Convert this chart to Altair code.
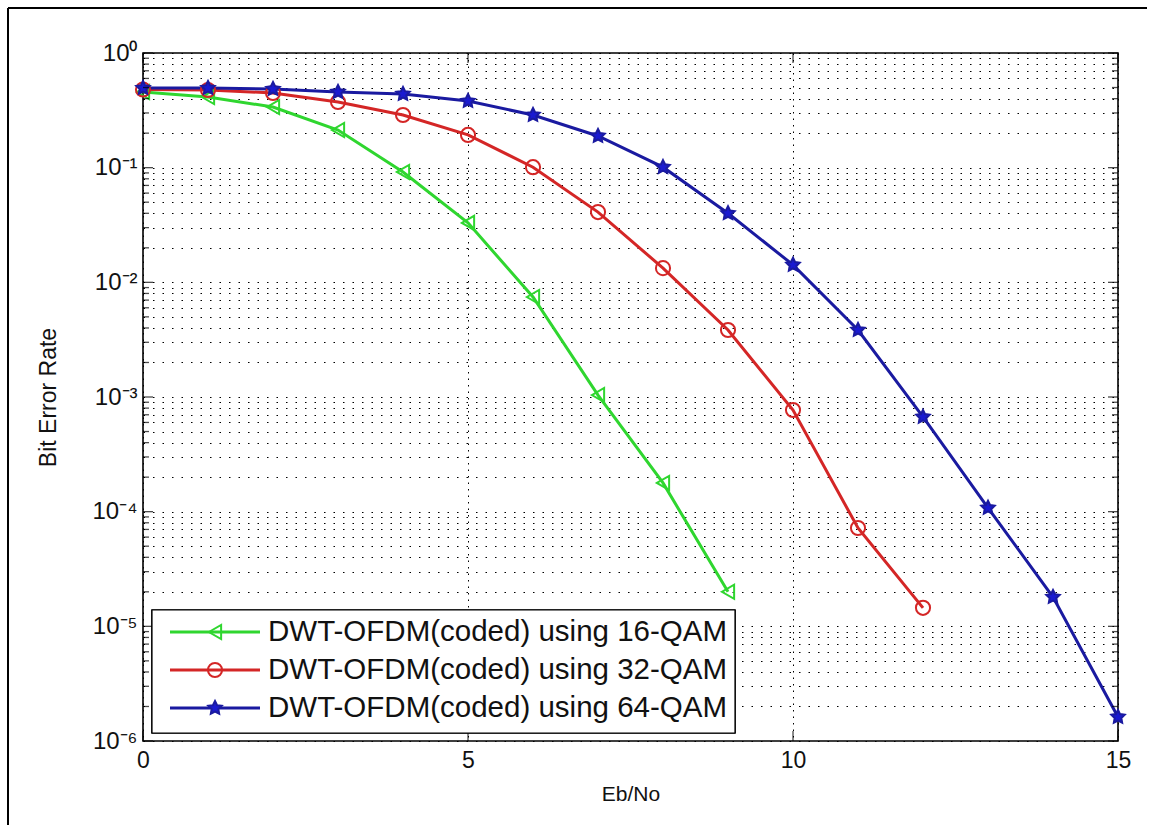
import math
import altair as alt
import pandas as pd

# ---------------- data ----------------
series_names = [
    "DWT-OFDM(coded) using 16-QAM",
    "DWT-OFDM(coded) using 32-QAM",
    "DWT-OFDM(coded) using 64-QAM",
]
ebno_16 = [0, 1, 2, 3, 4, 5, 6, 7, 8, 9]
ber_16 = [0.457, 0.413, 0.338, 0.213, 0.0917, 0.0330, 0.00745, 0.00104, 1.78e-4, 2.0e-5]
ebno_32 = [0, 1, 2, 3, 4, 5, 6, 7, 8, 9, 10, 11, 12]
ber_32 = [0.48, 0.476, 0.448, 0.374, 0.288, 0.193, 0.101, 0.041, 0.0133, 0.00384,
          7.7e-4, 7.2e-5, 1.45e-5]
ebno_64 = [0, 1, 2, 3, 4, 5, 6, 7, 8, 9, 10, 11, 12, 13, 14, 15]
ber_64 = [0.495, 0.495, 0.485, 0.457, 0.439, 0.381, 0.288, 0.189, 0.101, 0.040,
          0.0142, 0.00384, 6.7e-4, 1.08e-4, 1.8e-5, 1.62e-6]

x_ticks = [0, 5, 10, 15]
y_exponents = [0, -1, -2, -3, -4, -5, -6]
y_major_labels = ["10⁰", "10⁻¹", "10⁻²", "10⁻³", "10⁻⁴", "10⁻⁵", "10⁻⁶"]

colors = ["#2fd62f", "#d42626", "#1a1aa0"]
marker_fills = ["transparent", "transparent", "#1a1ad0"]

# star glyph as an SVG path (Vega has no built-in star symbol)
_pts = []
for i in range(10):
    r = 1.0 if i % 2 == 0 else 0.5
    a = -math.pi / 2 + i * math.pi / 5
    _pts.append(f"{r * math.cos(a):.3f},{r * math.sin(a):.3f}")
star_path = "M" + "L".join(_pts) + "Z"
marker_shapes = ["triangle-left", "circle", star_path]

# ---------------- build tables ----------------
rows = []
for name, xs, ys in zip(series_names, [ebno_16, ebno_32, ebno_64], [ber_16, ber_32, ber_64]):
    for xv, yv in zip(xs, ys):
        rows.append({"series": name, "ebno": xv, "ber": yv})
df = pd.DataFrame(rows)

y_major = [10.0 ** e for e in y_exponents]
y_minor = [k * 10.0 ** e for e in y_exponents[1:] for k in range(2, 10)]
y_all = sorted(y_major + y_minor)

label_array = "[" + ",".join("'" + s + "'" for s in y_major_labels) + "]"
y_label_expr = (
    "abs(log(datum.value)/LN10 - round(log(datum.value)/LN10)) < 0.001 ? "
    + label_array + "[-round(log(datum.value)/LN10)] : ''"
)

FONT = "Liberation Sans"
x_scale = alt.Scale(domain=[x_ticks[0], x_ticks[-1]], nice=False, zero=False)
y_scale = alt.Scale(type="log", domain=[y_major[-1], y_major[0]], nice=False)
color_scale = alt.Scale(domain=series_names, range=colors)
shape_scale = alt.Scale(domain=series_names, range=marker_shapes)
fill_scale = alt.Scale(domain=series_names, range=marker_fills)

x_axis = alt.Axis(values=x_ticks, format="d", title="Eb/No", grid=True, ticks=False,
                  domain=False, labelFontSize=23, labelPadding=8, labelFlush=False,
                  titleFontSize=21, titlePadding=11, gridDash=[1.5, 5],
                  gridColor="black", gridOpacity=1, gridWidth=1)
y_axis = alt.Axis(values=y_all, labelExpr=y_label_expr, title="Bit Error Rate",
                  grid=True, ticks=False, domain=False, labelFontSize=24, labelPadding=6,
                  labelFlush=False, titleFontSize=23, titlePadding=31,
                  gridDash=[1.5, 8], gridColor="black", gridOpacity=1, gridWidth=1)

base = alt.Chart(df)

lines = base.mark_line(strokeWidth=3, clip=True).encode(
    x=alt.X("ebno:Q", scale=x_scale, axis=x_axis),
    y=alt.Y("ber:Q", scale=y_scale, axis=y_axis),
    color=alt.Color("series:N", scale=color_scale, legend=None),
)

points = base.mark_point(filled=False, strokeWidth=2, size=200, opacity=1).encode(
    x=alt.X("ebno:Q", scale=x_scale, axis=x_axis),
    y=alt.Y("ber:Q", scale=y_scale, axis=y_axis),
    color=alt.Color("series:N", scale=color_scale, legend=None),
    fill=alt.Fill("series:N", scale=fill_scale, legend=None),
    shape=alt.Shape("series:N", scale=shape_scale, legend=None),
)

# inward ticks on all four sides (MATLAB style)
major_df = pd.DataFrame({"v": y_major})
minor_df = pd.DataFrame({"v": y_minor})
xt_df = pd.DataFrame({"v": x_ticks})
tick_layers = []
for tdf, ln in [(major_df, 10), (minor_df, 6)]:
    for xpos, off in [(x_ticks[0], ln / 2), (x_ticks[-1], -ln / 2)]:
        tick_layers.append(
            alt.Chart(tdf).mark_tick(orient="horizontal", size=ln, thickness=1.3,
                                     xOffset=off, color="black").encode(
                x=alt.X(datum=xpos, type="quantitative", scale=x_scale, axis=x_axis),
                y=alt.Y("v:Q", scale=y_scale, axis=y_axis),
            )
        )
for ypos, off in [(y_major[-1], -5), (y_major[0], 5)]:
    tick_layers.append(
        alt.Chart(xt_df).mark_tick(orient="vertical", size=10, thickness=1.3,
                                   yOffset=off, color="black").encode(
            x=alt.X("v:Q", scale=x_scale, axis=x_axis),
            y=alt.Y(datum=ypos, type="quantitative", scale=y_scale, axis=y_axis),
        )
    )

# figure frame (left and top edges of the captured window)
frame_left = alt.Chart(df).mark_rule(color="black", strokeWidth=1.5).encode(
    x=alt.value(-135), y=alt.value(-45), y2=alt.value(780))
frame_top = alt.Chart(df).mark_rule(color="black", strokeWidth=1.5).encode(
    x=alt.value(-135), x2=alt.value(1004), y=alt.value(-45))

main = alt.layer(lines, points, *tick_layers, frame_left, frame_top)

# ---------------- legend (drawn as a layer) ----------------
leg_df = pd.DataFrame({"series": series_names})
leg_y = alt.Y("series:N", scale=alt.Scale(type="point", domain=series_names,
                                          range=[579, 655], padding=0), axis=None)
leg_box = alt.Chart(leg_df).mark_rect(fill="white", stroke="black", strokeWidth=1.2).encode(
    x=alt.value(9), x2=alt.value(592), y=alt.value(557), y2=alt.value(680))
leg_lines = alt.Chart(leg_df).mark_rule(strokeWidth=3).encode(
    x=alt.value(27), x2=alt.value(117), y=leg_y,
    color=alt.Color("series:N", scale=color_scale, legend=None))
leg_marks = alt.Chart(leg_df).mark_point(filled=False, strokeWidth=2, size=200,
                                         opacity=1).encode(
    x=alt.value(72), y=leg_y,
    color=alt.Color("series:N", scale=color_scale, legend=None),
    fill=alt.Fill("series:N", scale=fill_scale, legend=None),
    shape=alt.Shape("series:N", scale=shape_scale, legend=None))
leg_text = alt.Chart(leg_df).mark_text(align="left", baseline="middle", font=FONT,
                                       fontSize=29.5, color="#111111").encode(
    x=alt.value(125), y=leg_y, text="series:N")
legend_layer = alt.layer(leg_box, leg_lines, leg_marks, leg_text)

chart = alt.layer(main, legend_layer).resolve_scale(
    y="independent"
).properties(
    width=975, height=688,
    autosize=alt.AutoSizeParams(type="none"),
    padding={"left": 143, "top": 53, "right": 37, "bottom": 84},
    background="white",
).configure_view(
    stroke="black", strokeWidth=1.6
).configure_axis(
    labelFont=FONT, titleFont=FONT, labelColor="#111111", titleColor="#111111",
    titleFontWeight="normal",
)

chart.save("out.html", embed_options={"renderer": "svg", "actions": False})
